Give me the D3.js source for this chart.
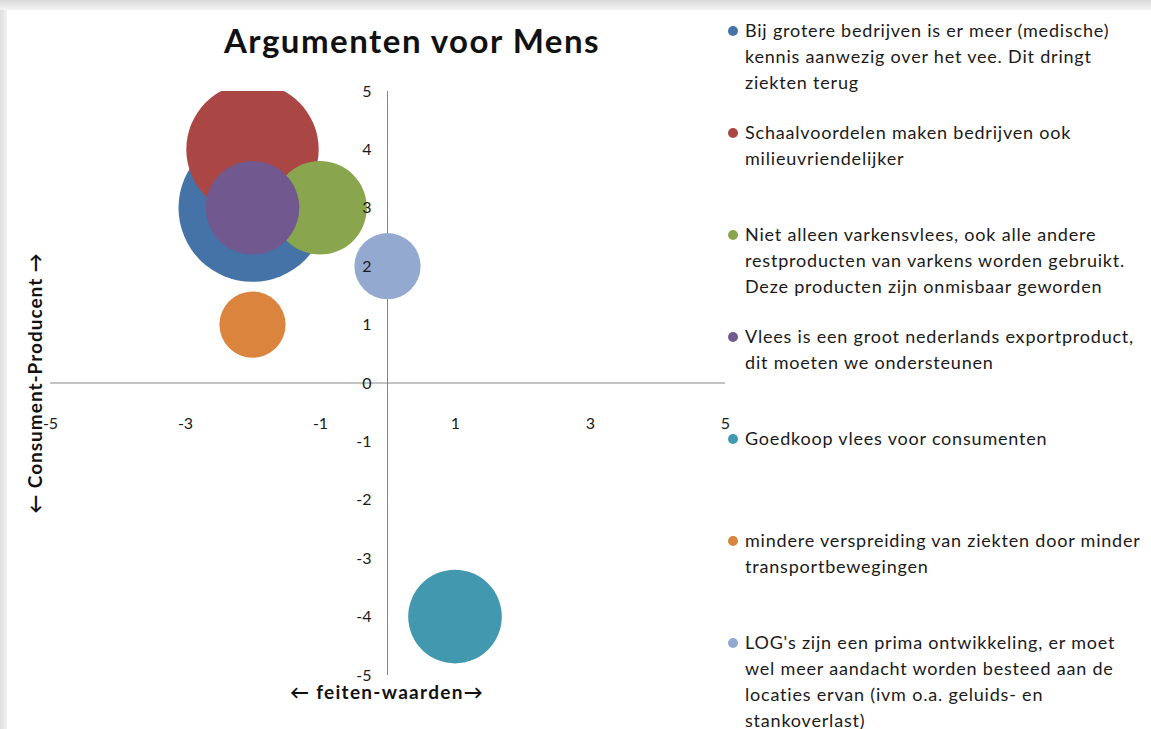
<!DOCTYPE html>
<html>
<head>
<meta charset="utf-8">
<script src="https://cdn.jsdelivr.net/npm/d3@7"></script>
<style>
  body { margin: 0; background: #fff; }
  svg { display: block; font-family: Lato, "Open Sans", sans-serif; }
</style>
</head>
<body>
<script>
// series (one bubble per argument)
var legendLines = [
  ["Bij grotere bedrijven is er meer (medische)", "kennis aanwezig  over het vee. Dit dringt", "ziekten terug"],
  ["Schaalvoordelen maken bedrijven ook", "milieuvriendelijker"],
  ["Niet alleen varkensvlees, ook alle andere", "restproducten van varkens worden gebruikt.", "Deze producten zijn onmisbaar geworden"],
  ["Vlees is een groot nederlands exportproduct,", "dit moeten we ondersteunen"],
  ["Goedkoop vlees voor consumenten"],
  ["mindere verspreiding van ziekten door minder", "transportbewegingen"],
  ["LOG's zijn een prima ontwikkeling, er moet", "wel meer aandacht worden besteed aan de", "locaties ervan (ivm o.a. geluids- en", "stankoverlast)"]
];
var xValues = [-2, -2, -1, -2, 1, -2, 0];
var yValues = [3, 4, 3, 3, -4, 1, 2];
var sizes = [5, 4, 2, 2, 2, 1, 1];
var colors = ["#4572A7", "#AA4643", "#89A54E", "#71588F", "#4198AF", "#DB843D", "#93A9CF"];

var xTicks = [-5, -3, -1, 1, 3, 5];
var yTicks = [5, 4, 3, 2, 1, 0, -1, -2, -3, -4, -5];

var width = 1151, height = 729;
var plot = {left: 50, right: 725, top: 91, bottom: 675};

var svg = d3.select("body").append("svg")
    .attr("width", width)
    .attr("height", height);

// grey frame round the chart
var defs = svg.append("defs");
var gTop = defs.append("linearGradient").attr("id", "topShade")
    .attr("x1", 0).attr("y1", 0).attr("x2", 0).attr("y2", 1);
gTop.append("stop").attr("offset", "0%").attr("stop-color", "#d9d9d9");
gTop.append("stop").attr("offset", "100%").attr("stop-color", "#f4f4f4");
var gLeft = defs.append("linearGradient").attr("id", "leftShade")
    .attr("x1", 0).attr("y1", 0).attr("x2", 1).attr("y2", 0);
gLeft.append("stop").attr("offset", "0%").attr("stop-color", "#dedede");
gLeft.append("stop").attr("offset", "100%").attr("stop-color", "#f2f2f2");

svg.append("rect").attr("width", width).attr("height", 10).attr("fill", "url(#topShade)");
svg.append("rect").attr("y", 10).attr("width", 7).attr("height", height - 10).attr("fill", "url(#leftShade)");

defs.append("clipPath").attr("id", "plotClip")
  .append("rect")
    .attr("x", plot.left).attr("y", plot.top)
    .attr("width", plot.right - plot.left).attr("height", plot.bottom - plot.top);

// scales
var x = d3.scaleLinear().domain([-5, 5]).range([plot.left, plot.right]);
var y = d3.scaleLinear().domain([-5, 5]).range([plot.bottom, plot.top]);
var r = d3.scaleSqrt().domain([0, d3.max(sizes)]).range([0, 74]);

// axis lines crossing at 0 (drawn under the bubbles)
svg.append("line")
    .attr("x1", plot.left).attr("x2", plot.right)
    .attr("y1", y(0)).attr("y2", y(0))
    .attr("stroke", "#868686");
svg.append("line")
    .attr("x1", x(0)).attr("x2", x(0))
    .attr("y1", plot.top).attr("y2", plot.bottom)
    .attr("stroke", "#868686");

// bubbles
var data = xValues.map(function(d, i) {
  return {x: d, y: yValues[i], size: sizes[i], color: colors[i]};
});
svg.append("g").attr("clip-path", "url(#plotClip)")
  .selectAll("circle")
  .data(data)
  .enter().append("circle")
    .attr("cx", function(d) { return x(d.x); })
    .attr("cy", function(d) { return y(d.y); })
    .attr("r", function(d) { return r(d.size); })
    .attr("fill", function(d) { return d.color; });

// tick labels on top of the bubbles
var fmt = function(d) { return String(d); };
var xAxis = d3.axisBottom(x).tickValues(xTicks).tickSize(0).tickFormat(fmt);
var yAxis = d3.axisLeft(y).tickValues(yTicks).tickSize(0).tickFormat(fmt);

var xAxisG = svg.append("g").attr("transform", "translate(0," + y(0) + ")").call(xAxis);
var yAxisG = svg.append("g").attr("transform", "translate(" + x(0) + ",0)").call(yAxis);
xAxisG.select(".domain").remove();
yAxisG.select(".domain").remove();
xAxisG.selectAll("text")
    .attr("y", 35)
    .attr("font-size", 16)
    .attr("font-family", "Lato, sans-serif")
    .attr("fill", "#1a1a1a");
yAxisG.selectAll("text")
    .attr("x", -16)
    .attr("font-size", 16)
    .attr("font-family", "Lato, sans-serif")
    .attr("fill", "#1a1a1a");

// title
svg.append("text")
    .attr("x", 412).attr("y", 53)
    .attr("text-anchor", "middle")
    .attr("font-size", 33)
    .attr("font-weight", "bold")
    .attr("letter-spacing", 1.5)
    .attr("fill", "#111")
    .text("Argumenten voor Mens");

// axis titles
svg.append("text")
    .attr("x", 387).attr("y", 699)
    .attr("text-anchor", "middle")
    .attr("font-size", 19)
    .attr("font-weight", "bold")
    .attr("letter-spacing", 1.3)
    .attr("fill", "#111")
    .text("\u2190 feiten-waarden\u2192");

svg.append("text")
    .attr("transform", "translate(42,383) rotate(-90)")
    .attr("text-anchor", "middle")
    .attr("font-size", 19)
    .attr("font-weight", "bold")
    .attr("letter-spacing", 1)
    .attr("fill", "#111")
    .text("\u2190 Consument-Producent  \u2192");

// legend
var legendY = d3.scaleLinear().domain([0, legendLines.length - 1]).range([31, 643]);
var legend = svg.append("g").selectAll("g")
  .data(legendLines)
  .enter().append("g")
    .attr("transform", function(d, i) { return "translate(733," + legendY(i) + ")"; });

legend.append("circle")
    .attr("r", 5)
    .attr("fill", function(d, i) { return colors[i]; });

legend.append("text")
    .attr("x", 12)
    .attr("font-size", 18)
    .attr("letter-spacing", 0.8)
    .attr("fill", "#1a1a1a")
  .selectAll("tspan")
  .data(function(d) { return d; })
  .enter().append("tspan")
    .attr("x", 12)
    .attr("y", function(d, j) { return j * 26 + 6; })
    .text(function(d) { return d; });
</script>
</body>
</html>
